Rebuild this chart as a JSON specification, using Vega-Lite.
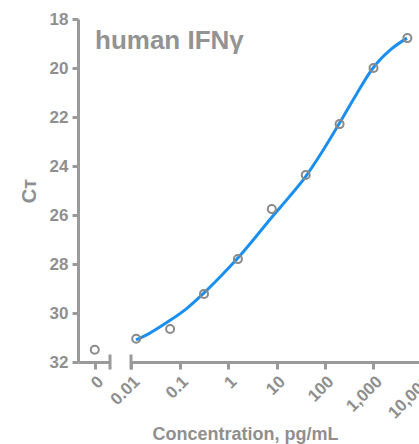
{
  "$schema": "https://vega.github.io/schema/vega-lite/v6.json",
  "padding": {"left": 19, "top": 10, "right": 0, "bottom": 0},
  "background": "white",
  "bounds": "flush",
  "title": {
    "text": "human IFNγ",
    "anchor": "start",
    "frame": "group",
    "orient": "top",
    "baseline": "alphabetic",
    "offset": -65,
    "dx": 17,
    "font": "Liberation Sans",
    "fontSize": 26,
    "fontWeight": "bold",
    "color": "#939393"
  },
  "datasets": {
    "blank": [{"conc": 0, "ct": 31.5}],
    "points": [
      {"conc": 0.0128, "ct": 31.05},
      {"conc": 0.064, "ct": 30.65},
      {"conc": 0.32, "ct": 29.22},
      {"conc": 1.6, "ct": 27.8},
      {"conc": 8, "ct": 25.76},
      {"conc": 40, "ct": 24.37},
      {"conc": 200, "ct": 22.29},
      {"conc": 1000, "ct": 20.0},
      {"conc": 5000, "ct": 18.78}
    ],
    "fit": [
      {"conc": 0.0127, "ct": 31.1},
      {"conc": 0.0235, "ct": 30.84},
      {"conc": 0.0607, "ct": 30.33},
      {"conc": 0.136, "ct": 29.84},
      {"conc": 0.305, "ct": 29.22},
      {"conc": 0.684, "ct": 28.53},
      {"conc": 1.53, "ct": 27.8},
      {"conc": 3.44, "ct": 26.98},
      {"conc": 8.08, "ct": 26.08},
      {"conc": 18.1, "ct": 25.27},
      {"conc": 40.6, "ct": 24.41},
      {"conc": 86.7, "ct": 23.43},
      {"conc": 194, "ct": 22.29},
      {"conc": 436, "ct": 21.1},
      {"conc": 977, "ct": 20.0},
      {"conc": 2190, "ct": 19.27},
      {"conc": 4906, "ct": 18.78}
    ]
  },
  "config": {
    "view": {"stroke": null},
    "font": "Liberation Sans",
    "axis": {
      "grid": false,
      "domainColor": "#9a9a9a",
      "domainWidth": 3,
      "tickColor": "#9a9a9a",
      "tickWidth": 3,
      "tickSize": 7,
      "labelColor": "#8f8f8f",
      "labelFont": "Liberation Sans",
      "labelFontWeight": "bold",
      "labelFontSize": 17,
      "labelOverlap": false,
      "titleColor": "#8f8f8f",
      "titleFont": "Liberation Sans",
      "titleFontWeight": "bold"
    }
  },
  "spacing": 21,
  "hconcat": [
    {
      "width": 32,
      "height": 343,
      "data": {"name": "blank"},
      "layer": [
        {
          "mark": {"type": "point", "shape": "circle", "filled": false, "stroke": "#8a8a8a", "strokeWidth": 2, "size": 64, "opacity": 1},
          "encoding": {
            "x": {
              "field": "conc",
              "type": "quantitative",
              "scale": {"domain": [-1.1, 1], "nice": false, "zero": false},
              "axis": {"values": [0], "title": null, "labelAngle": -45, "labelPadding": 4, "format": "d"}
            },
            "y": {
              "field": "ct",
              "type": "quantitative",
              "scale": {"domain": [18, 32], "reverse": true, "nice": false, "zero": false},
              "axis": {"values": [18, 20, 22, 24, 26, 28, 30, 32], "title": "Cᴛ", "titleFontSize": 20, "titlePadding": 10, "labelPadding": 4, "tickSize": 6}
            }
          }
        },
        {
          "mark": {"type": "tick", "orient": "vertical", "color": "#9a9a9a", "thickness": 3, "size": 15, "opacity": 1},
          "encoding": {
            "x": {"datum": 1, "type": "quantitative"},
            "y": {"datum": 32, "type": "quantitative"}
          }
        }
      ]
    },
    {
      "width": 291,
      "height": 343,
      "layer": [
        {
          "data": {"name": "fit"},
          "mark": {"type": "line", "color": "#1b8ff0", "strokeWidth": 3, "interpolate": "monotone"},
          "encoding": {
            "x": {
              "field": "conc",
              "type": "quantitative",
              "scale": {"type": "log", "domain": [0.01, 10000], "nice": false},
              "axis": {
                "values": [0.01, 0.1, 1, 10, 100, 1000, 10000],
                "labelExpr": "format(datum.value, ',')",
                "labelAngle": -45,
                "labelPadding": 4,
                "title": "Concentration, pg/mL",
                "titleFontSize": 18,
                "titleX": 114,
                "titlePadding": 4
              }
            },
            "y": {
              "field": "ct",
              "type": "quantitative",
              "scale": {"domain": [18, 32], "reverse": true, "nice": false, "zero": false},
              "axis": null
            }
          }
        },
        {
          "data": {"name": "points"},
          "mark": {"type": "point", "shape": "circle", "filled": false, "stroke": "#8a8a8a", "strokeWidth": 2, "size": 64, "opacity": 1},
          "encoding": {
            "x": {"field": "conc", "type": "quantitative"},
            "y": {"field": "ct", "type": "quantitative"}
          }
        },
        {
          "data": {"values": [{}]},
          "mark": {"type": "tick", "orient": "vertical", "color": "#9a9a9a", "thickness": 3, "size": 15, "opacity": 1},
          "encoding": {
            "x": {"datum": 0.01, "type": "quantitative"},
            "y": {"datum": 32, "type": "quantitative"}
          }
        }
      ]
    }
  ]
}
